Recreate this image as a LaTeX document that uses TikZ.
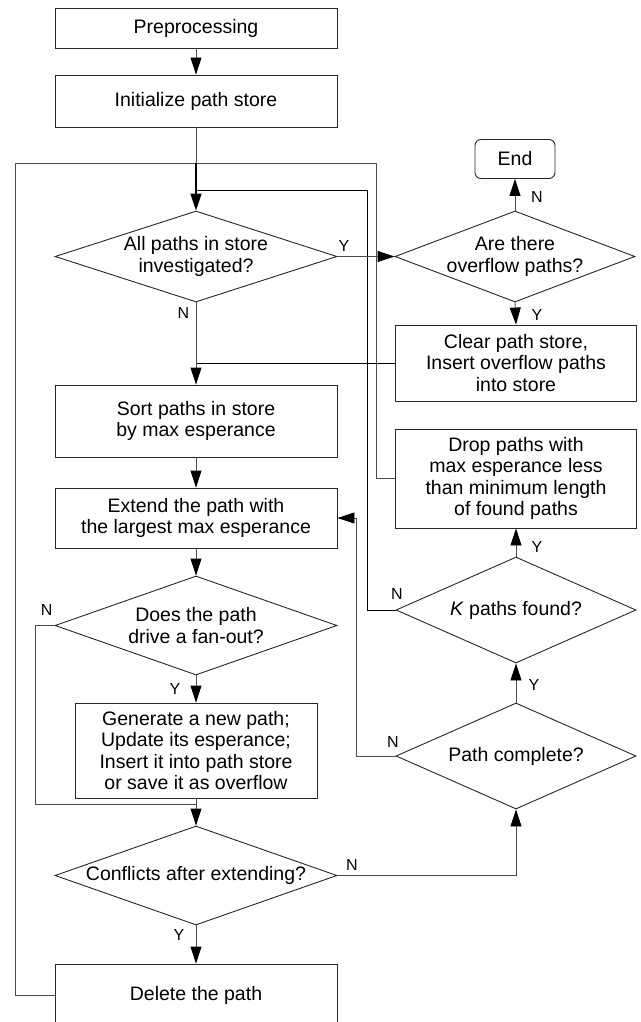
\documentclass[tikz,border=0pt]{standalone}
\usepackage{fontspec}
\setmainfont{Liberation Sans}
\usetikzlibrary{arrows.meta,shapes.geometric}
\newcommand\mainfs{\fontsize{19.5}{21.5}\selectfont}
\newcommand\labfs{\fontsize{16}{18}\selectfont}
\begin{document}
\begin{tikzpicture}[x=1pt,y=-1pt,
  box/.style={draw=black!85, line width=0.9pt, rectangle, inner sep=0pt, align=center, font=\mainfs, minimum width=282pt},
  dia/.style={draw=black!85, line width=0.9pt, diamond, inner sep=0pt},
  dtext/.style={align=center, font=\mainfs, inner sep=0pt},
  lab/.style={font=\labfs, inner sep=0pt},
  conn/.style={draw=black!70, line width=0.9pt},
  arr/.style={draw=black!70, line width=0.9pt, -{Triangle[length=17pt,width=11pt,color=black]}}]
\useasboundingbox (0,0) rectangle (640,1022);
% left column boxes
\node[box, minimum height=40pt] (pre) at (196,28) {Preprocessing};
\node[box, minimum height=52pt] (init) at (196,101) {Initialize path store};
\node[box, minimum height=72pt] (sort) at (196,421) {Sort paths in store\\by max esperance};
\node[box, minimum height=60pt] (extend) at (196,518) {Extend the path with\\the largest max esperance};
\node[box, minimum width=242pt, minimum height=95pt] (gen) at (196,750.5) {Generate a new path;\\Update its esperance;\\Insert it into path store\\or save it as overflow};
\node[box, minimum height=62pt] (delete) at (196,995) {Delete the path};
% right column boxes
\node[box, minimum width=80pt, minimum height=39pt, rounded corners=6pt] (end) at (515,159) {End};
\node[box, minimum width=241pt, minimum height=76pt] (clear) at (516,363) {Clear path store,\\Insert overflow paths\\into store};
\node[box, minimum width=241pt, minimum height=99pt] (drop) at (516,478.5) {Drop paths with\\max esperance less\\than minimum length\\of found paths};
% diamonds
\node[dia, minimum width=282pt, minimum height=91pt] (d1) at (196,256.5) {};
\node[dtext] (d1t) at (d1) {All paths in store\\investigated?};
\node[dia, minimum width=240pt, minimum height=91pt] (d2) at (515,256.5) {};
\node[dtext] (d2t) at (d2) {Are there\\overflow paths?};
\node[dia, minimum width=282pt, minimum height=99pt] (d3) at (196,625.5) {};
\node[dtext] (d3t) at (d3) {Does the path\\drive a fan-out?};
\node[dia, minimum width=282pt, minimum height=99pt] (d4) at (196,875.5) {};
\node[dtext] (d4t) at (d4) {Conflicts after extending?};
\node[dia, minimum width=240pt, minimum height=106pt] (dK) at (516,610) {};
\node[dtext] (dKt) at (dK) {\textit{K} paths found?};
\node[dia, minimum width=240pt, minimum height=106pt] (dP) at (516,756) {};
\node[dtext] (dPt) at (dP) {Path complete?};
% junction coordinates
\coordinate (jA) at (196,163);
\coordinate (jB) at (196,190.7);
\coordinate (jC) at (196,363);
\coordinate (jD) at (196,804);
\coordinate (oBL) at (15,995);
\coordinate (oTL) at (15,163);
\coordinate (oTR) at (376.5,163);
\coordinate (oDR) at (376.5,478.5);
\coordinate (iBR) at (367,610);
\coordinate (iTR) at (367,190.7);
\coordinate (rB) at (356,756);
\coordinate (rT) at (356,518);
\coordinate (fL) at (35,625.5);
\coordinate (fB) at (35,804);
\coordinate (cR) at (516,875.5);
% connectors
\draw[arr] (pre.south) -- (init.north);
\draw[conn] (init.south) -- (jA);
\draw[conn] (delete.west) -- (oBL) -- (oTL) -- (oTR) -- (oDR) -- (drop.west);
\draw[conn, draw=black] (dK.west) -- (iBR) -- (iTR) -- (jB);
\draw[arr, draw=black, line width=1.6pt] (jA) -- (d1.north);
\draw[arr] (d1.east) -- (d2.west);
\draw[arr] (d2.north) -- (end.south);
\draw[arr] (d2.south) -- (clear.north);
\draw[conn, draw=black] (clear.west) -- (jC);
\draw[conn] (d1.south) -- (jC);
\draw[arr] (jC) -- (sort.north);
\draw[arr] (sort.south) -- (extend.north);
\draw[arr] (extend.south) -- (d3.north);
\draw[arr] (d3.south) -- (gen.north);
\draw[conn] (d3.west) -- (fL) -- (fB) -- (jD);
\draw[conn] (gen.south) -- (jD);
\draw[arr] (jD) -- (d4.north);
\draw[arr] (d4.east) -- (cR) -- (dP.south);
\draw[arr] (dP.north) -- (dK.south);
\draw[arr] (dK.north) -- (drop.south);
\draw[arr] (dP.west) -- (rB) -- (rT) -- (extend.east);
\draw[arr] (d4.south) -- (delete.north);
% labels
\node[lab] (l1) at (344,246) {Y};
\node[lab] (l2) at (537,197) {N};
\node[lab] (l3) at (537,315) {Y};
\node[lab] (l4) at (183.5,313) {N};
\node[lab] (l5) at (46.6,610) {N};
\node[lab] (l6) at (175,689) {Y};
\node[lab] (l7) at (352,865) {N};
\node[lab] (l8) at (534,685) {Y};
\node[lab] (l9) at (537,547) {Y};
\node[lab] (l10) at (393,742) {N};
\node[lab] (l11) at (397,594) {N};
\node[lab] (l12) at (179,935) {Y};
\end{tikzpicture}
\end{document}
